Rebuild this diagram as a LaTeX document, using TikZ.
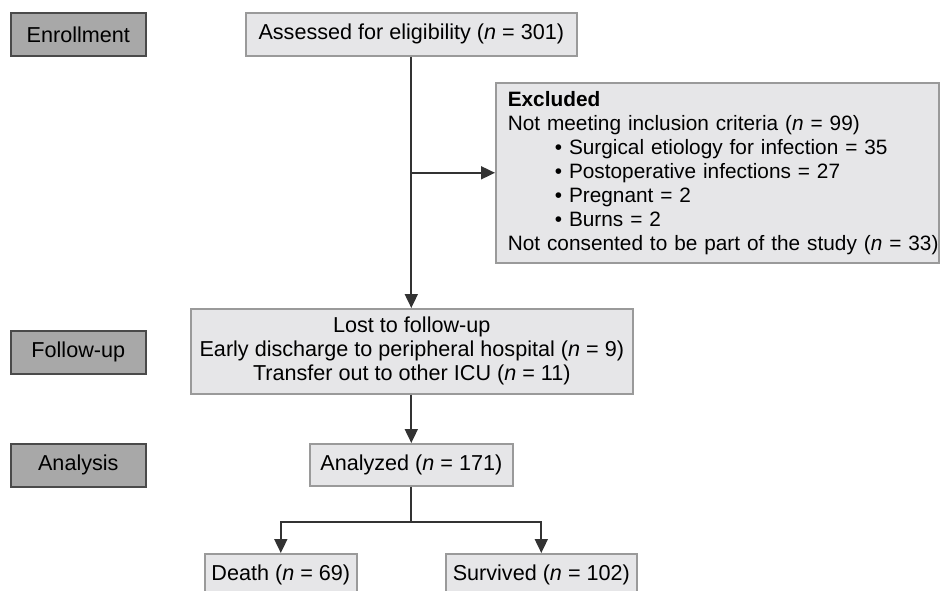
\documentclass[tikz,border=0pt]{standalone}
\usepackage{fontspec}
\setmainfont{Liberation Sans}
\usetikzlibrary{arrows.meta}
\definecolor{lightfill}{HTML}{E6E6E8}
\definecolor{lightedge}{HTML}{9A9A9A}
\definecolor{darkfill}{HTML}{A8A8A8}
\definecolor{darkedge}{HTML}{4A4A4A}
\definecolor{linecol}{HTML}{333333}
\tikzset{
  lbox/.style={draw=lightedge, fill=lightfill, line width=1.6pt, inner sep=0pt, anchor=north west, align=center,
    font=\fontsize{21.6}{24}\selectfont},
  dbox/.style={draw=darkedge, fill=darkfill, line width=1.6pt, inner sep=0pt, anchor=north west, align=center,
    minimum width=135pt, minimum height=43pt, font=\fontsize{21.6}{24}\selectfont},
  arr/.style={draw=linecol, line width=1.8pt, -{Triangle[length=14pt,width=13pt]}},
  ln/.style={draw=linecol, line width=1.8pt},
}
\begin{document}
\begin{tikzpicture}[x=1pt,y=-1pt]
\path[use as bounding box] (0,0) rectangle (940,590);
\clip (0,0) rectangle (940,590);
% stage labels
\node[dbox] (enr) at (10,12) {Enrollment};
\node[dbox] (fol) at (10,330) {Follow-up};
\node[dbox] (ana) at (10,443) {Analysis};
% main boxes
\node[lbox, minimum width=331pt, minimum height=43pt] (assess) at (245,12) {Assessed for eligibility (\textit{n} = 301)};
\node[lbox, minimum height=180pt, align=left, text width=443pt, inner xsep=0pt, font=\fontsize{20.8}{24}\selectfont] (excl) at (495,82) {\mbox{\hspace*{12pt}\textbf{Excluded}}\\
\mbox{\hspace*{12pt}Not meeting inclusion criteria (\textit{n} = 99)}\\
\mbox{\hspace*{59pt}• Surgical etiology for infection = 35}\\
\mbox{\hspace*{59pt}• Postoperative infections = 27}\\
\mbox{\hspace*{59pt}• Pregnant = 2}\\
\mbox{\hspace*{59pt}• Burns = 2}\\
\mbox{\hspace*{12pt}Not consented to be part of the study (\textit{n} = 33)}};
\node[lbox, minimum width=442pt, minimum height=85pt] (lost) at (190,308) {Lost to follow-up\\Early discharge to peripheral hospital (\textit{n} = 9)\\Transfer out to other ICU (\textit{n} = 11)};
\node[lbox, minimum width=203pt, minimum height=42pt] (anz) at (309,443) {Analyzed (\textit{n} = 171)};
\node[lbox, minimum width=152pt, minimum height=43pt] (death) at (204,553) {Death (\textit{n} = 69)};
\node[lbox, minimum width=191pt, minimum height=43pt] (surv) at (445,553) {Survived (\textit{n} = 102)};
% connectors
\draw[arr] (assess.south) -- (assess.south |- lost.north);
\draw[arr] (assess.south |- excl.west) -- (excl.west);
\draw[arr] (lost.south -| anz.north) -- (anz.north);
\coordinate (j) at ([yshift=-35pt]anz.south);
\draw[ln] (anz.south) -- (j);
\draw[arr] (j) -| (death.north);
\draw[arr] (j) -| (surv.north);
\end{tikzpicture}
\end{document}
